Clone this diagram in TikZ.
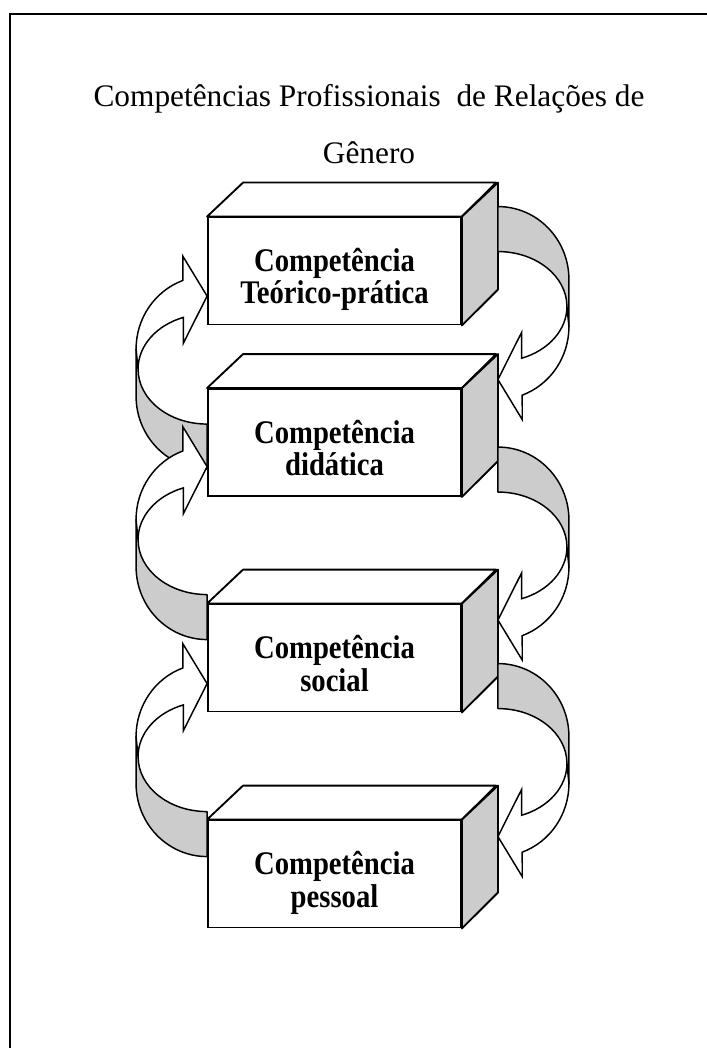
\documentclass[tikz,border=0pt]{standalone}
\usepackage{fontspec}
\setmainfont{Liberation Serif}
\usetikzlibrary{calc}
\definecolor{sidegray}{RGB}{204,204,204}
\newcommand{\cubetext}[2]{\raisebox{-24.75pt}[0pt][0pt]{\scalebox{1}[1.15]{%
  \begin{tabular}[b]{@{}c@{}}#1\\#2\end{tabular}}}}
\tikzset{
  cube/.style={draw, fill=white, line width=1.4pt, minimum width=189.75pt,
    minimum height=80.25pt, inner sep=0pt,
    font=\bfseries\fontsize{21.5}{20.7}\selectfont},
  face/.style={draw, fill=white, line width=1.4pt, line join=round},
  band/.style={draw, fill=sidegray, line width=1.1pt, line join=round},
  body/.style={draw, fill=white, line width=1.1pt},
  bentarrow/.pic={
    % shaded back of the band
    \path[band] (0,0) arc[start angle=-90, end angle=0, x radius=71, y radius=73]
      -- (71,120) -- (69,100)
      arc[start angle=0, end angle=-90, x radius=69, y radius=55] -- cycle;
    % front of the band with the head
    \path[body] (71,120) arc[start angle=0, end angle=70, x radius=71, y radius=73]
      -- (24.3,213) -- (0,173) -- (23.6,126) -- (23.6,151.7)
      arc[start angle=70, end angle=0, x radius=69, y radius=55] -- cycle;
  }
}
\begin{document}
\begin{tikzpicture}[x=0.75pt, y=-0.75pt]
  \useasboundingbox (0,0) rectangle (706,1048);
  \draw[line width=1.5pt] (10,1050) -- (10,14) -- (710,14);

  \node[font=\fontsize{23.5}{42.75}\selectfont, align=center] (title) at (369,124)
    {Competências Profissionais\ \ de Relações de\\Gênero};

  \node[cube] (b1) at (334.5,271) {\cubetext{Competência}{Teórico-prática}};
  \node[cube] (b2) at (334.5,442.5) {\cubetext{Competência}{didática}};
  \node[cube] (b3) at (334.5,658) {\cubetext{Competência}{social}};
  \node[cube] (b4) at (334.5,874) {\cubetext{Competência}{pessoal}};

  \foreach \b in {b1,b2,b3,b4} {
    \path[face] (\b.north west) -- ++(36,-34) -- ++(253,0) -- (\b.north east) -- cycle;
    \path[face, fill=sidegray] (\b.north east) -- ++(36,-34) -- ++(0,107) -- (\b.south east) -- cycle;
  }

  % downward arrows on the right
  \pic at ($(b1.north east)+(36,-10)$) {bentarrow};
  \pic at ($(b2.north east)+(36,59)$) {bentarrow};
  \pic at ($(b3.north east)+(36,60)$) {bentarrow};
  % upward arrows on the left
  \pic[rotate=180] at ($(b2.north west)+(0,81)$) {bentarrow};
  \pic[rotate=180] at ($(b3.north west)+(0,36)$) {bentarrow};
  \pic[rotate=180] at ($(b4.north west)+(0,37)$) {bentarrow};
\end{tikzpicture}
\end{document}
